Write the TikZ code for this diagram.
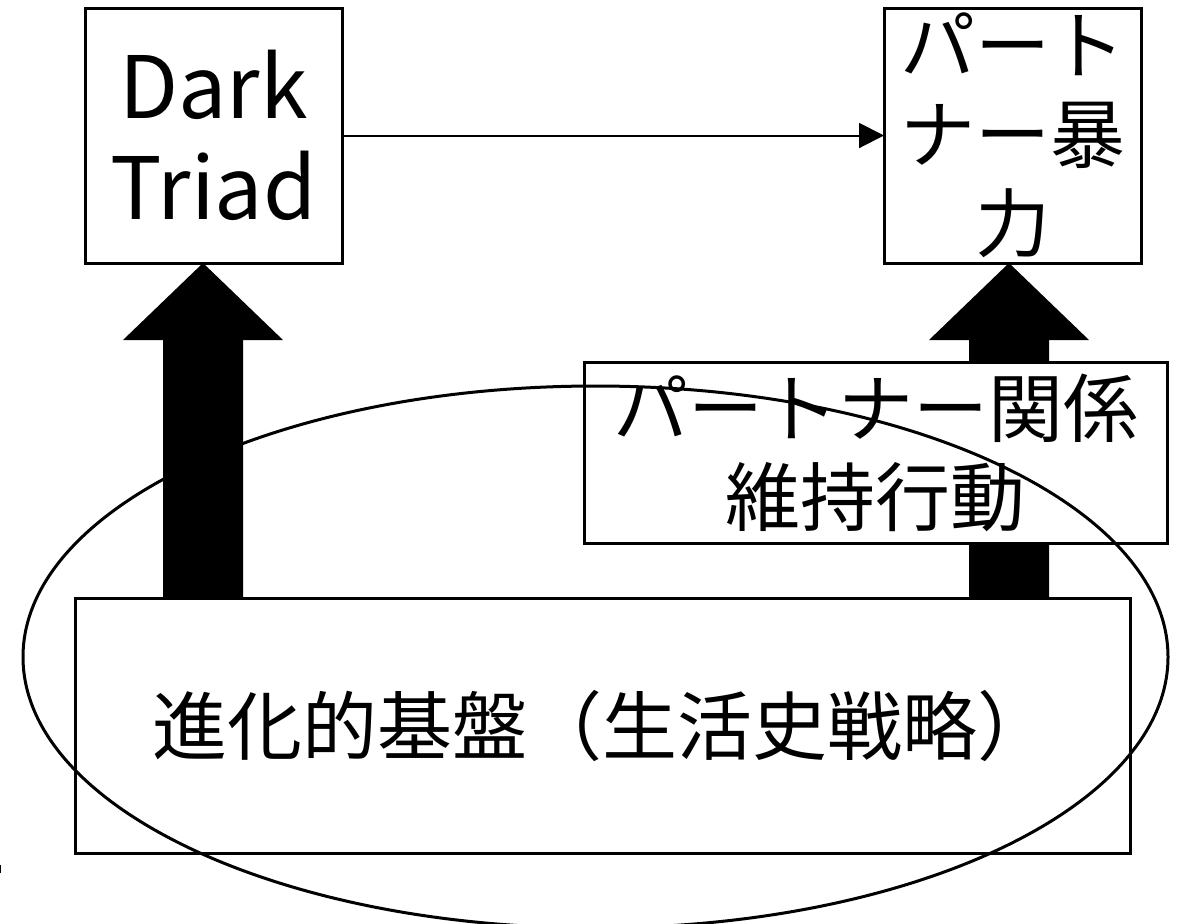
\documentclass[tikz,border=0pt]{standalone}
\usepackage{fontspec}
\setmainfont{Noto Sans CJK JP}
\usetikzlibrary{arrows.meta,backgrounds}
\begin{document}
\begin{tikzpicture}[x=0.5pt,y=-0.5pt,
  box/.style={draw, line width=1.5pt, fill=white, inner sep=0pt, outer sep=0pt, align=center},
  jp/.style={font=\fontsize{37.5}{44.5}\selectfont},
  en/.style={font=\fontsize{43}{50.5}\selectfont},
  blockarrow/.style={fill=black},
  link/.style={line width=1pt, -{Triangle[length=12.5pt,width=12.5pt]}}]
\useasboundingbox (0,0) rectangle (1178,923);
\clip (0,0) rectangle (1178,923);

\node[box, en, minimum width=128.5pt, minimum height=127.5pt] (dt) at (213.5,135.5) {Dark\\Triad};
\node[box, jp, minimum width=128.5pt, minimum height=127.5pt] (pv) at (1012.5,135.5) {パート\\ナー暴\\力};
\node[box, jp, minimum width=291.5pt, minimum height=90.5pt] (mb) at (875.5,452.5) {パートナー関係\\維持行動};
\node[box, jp, minimum width=527.5pt, minimum height=127.5pt] (eb) at (602.5,725.5) {進化的基盤（生活史戦略）};

\begin{pgfonlayer}{background}
  % left block arrow
  \fill[blockarrow] (dt.south -| 203,0) -- (283,340) -- (243,340) -- (eb.north -| 243,0)
        -- (eb.north -| 163,0) -- (163,340) -- (123,340) -- cycle;
  % right block arrow
  \fill[blockarrow] (pv.south -| 1009,0) -- (1089,340) -- (1049,340) -- (eb.north -| 1049,0)
        -- (eb.north -| 969,0) -- (969,340) -- (929,340) -- cycle;
\end{pgfonlayer}

\draw[link] (dt) -- (pv);

\draw[line width=1.5pt] (595.5,657) ellipse [x radius=286.25pt, y radius=135.5pt];

\draw[line width=0.5pt] (0.5,865) -- (0.5,873);
\end{tikzpicture}
\end{document}
